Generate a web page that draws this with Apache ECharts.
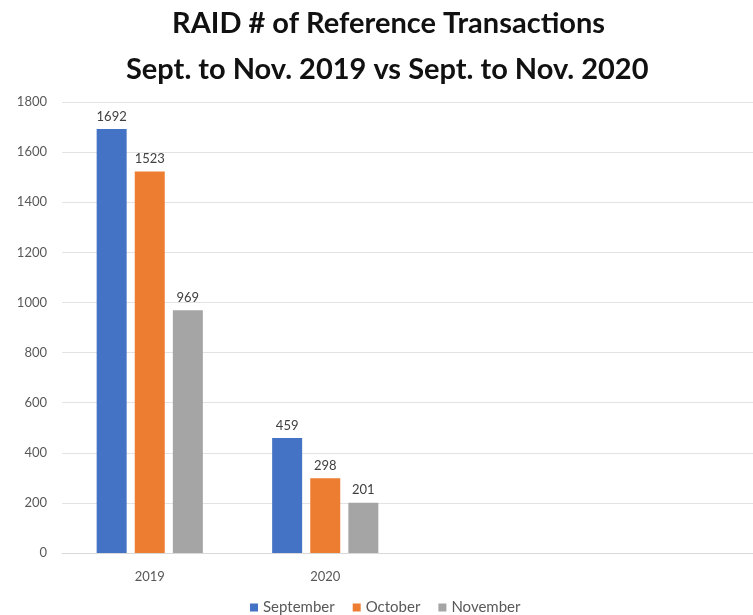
<!DOCTYPE html>
<html><head><meta charset="utf-8">
<script src="https://cdn.jsdelivr.net/npm/echarts@6/dist/echarts.min.js"></script>
<style>html,body{margin:0;padding:0;background:#fff}#c{width:753px;height:615px}</style>
</head><body><div id="c"></div>
<script>
const categories = ['2019', '2020', '', ''];
const september = [1692, 459];
const october = [1523, 298];
const november = [969, 201];
const yTicks = [0, 200, 400, 600, 800, 1000, 1200, 1400, 1600, 1800];
const titleLines = ['RAID # of Reference Transactions', 'Sept. to Nov. 2019 vs Sept. to Nov. 2020'];

const chart = echarts.init(document.getElementById('c'));
const lbl = {show: true, position: 'top', color: '#404040', fontSize: 13, fontFamily: 'Lato', distance: 6};
const tStyle = {fontFamily: 'Lato', fontWeight: 'bold', fontSize: 29, color: '#111'};
chart.setOption({
  animation: false,
  title: [
    {text: titleLines[0], left: 167, top: 4, textStyle: tStyle},
    {text: titleLines[1], left: 121, top: 50, textStyle: tStyle}
  ],
  legend: {
    bottom: -5, left: 245, itemWidth: 8, itemHeight: 8, itemGap: 18, icon: 'rect',
    textStyle: {color: '#595959', fontSize: 15, fontFamily: 'Lato'}
  },
  grid: {left: 62, width: 702, top: 102, bottom: 62, outerBoundsMode: 'none', containLabel: false},
  xAxis: {
    type: 'category', data: categories,
    axisLine: {lineStyle: {color: '#d9d9d9'}}, axisTick: {show: false},
    axisLabel: {color: '#595959', fontSize: 13, fontFamily: 'Lato', margin: 17}
  },
  yAxis: {
    type: 'value', min: yTicks[0], max: yTicks[yTicks.length-1], interval: 200,
    axisLine: {show: false}, axisTick: {show: false},
    axisLabel: {color: '#595959', fontSize: 13, fontFamily: 'Lato', margin: 15, formatter: v => String(v)},
    splitLine: {lineStyle: {color: '#e3e3e3'}}
  },
  series: [
    {name: 'September', type: 'bar', data: september, barWidth: 30, barGap: '27%', itemStyle: {color: '#4472C4'}, label: lbl},
    {name: 'October', type: 'bar', data: october, barWidth: 30, barGap: '27%', itemStyle: {color: '#ED7D31'}, label: lbl},
    {name: 'November', type: 'bar', data: november, barWidth: 30, barGap: '27%', itemStyle: {color: '#A5A5A5'}, label: lbl}
  ]
});
</script></body></html>
